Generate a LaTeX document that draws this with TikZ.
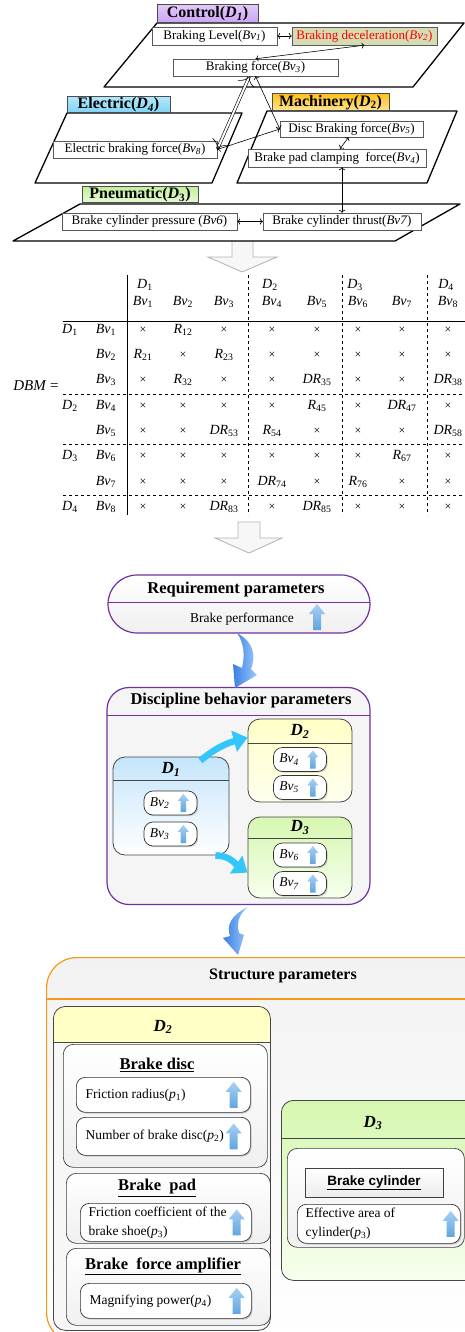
\documentclass[tikz,border=0pt]{standalone}
\usepackage{fontspec}
\setmainfont{Liberation Serif}
\setsansfont{Liberation Sans}
\usetikzlibrary{arrows.meta,shadows}

\definecolor{ctrl}{HTML}{CDA4F5}
\definecolor{elec}{HTML}{7FD4F6}
\definecolor{mach}{HTML}{FFC21A}
\definecolor{pneu}{HTML}{C3F09A}
\definecolor{decel}{HTML}{D5DCB3}
\definecolor{lila}{HTML}{7030A0}
\definecolor{amber}{HTML}{F7981D}
\definecolor{cyanarr}{HTML}{33C6FA}
\definecolor{arrtop}{HTML}{A8D0F4}
\definecolor{arrbot}{HTML}{5FA5DD}
\definecolor{bendlt}{HTML}{9CC8FF}
\definecolor{benddk}{HTML}{3A7FE0}
\definecolor{dtop}{HTML}{C5E5FB}
\definecolor{dyel}{HTML}{FFFFC6}
\definecolor{dyelb}{HTML}{FFFFF0}
\definecolor{dgrn}{HTML}{D6F7B0}
\definecolor{dgrnb}{HTML}{F6FFEE}

\newcommand{\fsz}[1]{\fontsize{#1}{#1}\selectfont}
\newcommand{\bv}[1]{\textit{Bv}\textsubscript{#1}}
\newcommand{\bvi}[1]{\textit{Bv}\textsubscript{\textit{#1}}}
\newcommand{\dd}[1]{\textit{D}\textsubscript{#1}}
\newcommand{\rr}[1]{\textit{R}\textsubscript{#1}}
\newcommand{\dr}[1]{\textit{DR}\textsubscript{#1}}
\newcommand{\pp}[1]{\textit{p}\textsubscript{#1}}
\newcommand{\cx}{{\fsz{12}×}}

\begin{document}
\begin{tikzpicture}[x=1pt,y=-1pt,
  box/.style={draw=gray!70!black,fill=white,inner sep=0pt,font=\fsz{13}},
  tag/.style={draw=gray!60!black,line width=1pt,inner sep=0pt,font=\bfseries\fsz{16}},
  plane/.style={draw=black,line width=1.3pt,line join=round},
  link/.style={<->,line width=0.6pt},
  cell/.style={inner sep=0pt,font=\fsz{14}},
  hollow/.style={draw=gray!60,fill=gray!6,line width=0.8pt},
  dbox/.style={draw=gray!55!black,line width=0.8pt,rounded corners=12pt,inner sep=0pt},
  pill/.style={draw=gray!40!black,line width=0.7pt,fill=white,rounded corners=9pt,inner sep=0pt,
    drop shadow={shadow xshift=1.2pt,shadow yshift=-1.2pt,fill=gray,opacity=0.35}},
  ibox/.style={draw=gray!50!black,line width=0.7pt,rounded corners=10pt,top color=white,
    bottom color=gray!12,inner sep=0pt},
  flow/.style={draw=cyanarr,line width=6.5pt,-{Triangle[length=14pt,width=21pt]}},
  bendarrow/.style={left color=benddk,right color=bendlt},
  uparr/.pic={\shade[top color=arrtop,bottom color=arrbot] (-4,13) -- (-4,-3) -- (-8,-3)
    -- (0,-13) -- (8,-3) -- (4,-3) -- (4,13) -- cycle;}]
\useasboundingbox (0,0) rectangle (465,1332);
\clip (0,0) rectangle (465,1332);

% three discipline planes
\path[hollow] (232,241) -- (232,257) -- (208,257) -- (242,272) -- (277,257) -- (253,257) -- (253,241);
\draw[plane] (157,23) -- (464,23) -- (413,87) -- (104,87) -- cycle;
\draw[plane] (67,113) -- (242,113) -- (212,183) -- (35,183) -- cycle;
\draw[plane] (267,111) -- (457,111) -- (427,183) -- (237,183) -- cycle;
\draw[plane] (80,204) -- (460,204) -- (395,241) -- (13,241) -- cycle;

\node[tag,top color=ctrl!60,bottom color=ctrl,minimum width=101pt,minimum height=18pt] (ctl) at (207.5,14) {Control(\textit{D}\textsubscript{\textit{1}})};
\node[tag,top color=elec!60,bottom color=elec,minimum width=103pt,minimum height=16pt] (ele) at (118.5,105) {Electric(\textit{D}\textsubscript{\textit{4}})};
\node[tag,top color=mach,bottom color=mach!45,minimum width=117pt,minimum height=17pt] (mac) at (330.5,102.5) {Machinery(\dd{2})};
\node[tag,top color=pneu,bottom color=pneu!40,minimum width=116pt,minimum height=16pt] (pne) at (140,195) {Pneumatic(\dd{3})};

\node[box,minimum width=125pt,minimum height=18pt] (bv1) at (214.5,36) {Braking Level(\bvi{1})};
\node[box,fill=decel,text=red,minimum width=145pt,minimum height=18pt] (bv2) at (364.5,36) {Braking deceleration(\bvi{2})};
\node[box,minimum width=165pt,minimum height=17pt] (bv3) at (255.5,67.5) {Braking force(\bvi{3})};
\node[box,minimum width=164pt,minimum height=17pt] (bv8) at (135,149.5) {Electric braking force(\bvi{8})};
\node[box,minimum width=143pt,minimum height=16pt] (bv5) at (351.5,129) {Disc Braking force(\bvi{5})};
\node[box,minimum width=178pt,minimum height=18pt] (bv4) at (337,158) {Brake pad clamping\ \ force(\bvi{4})};
\node[box,minimum width=175pt,minimum height=17pt] (bv6) at (149.5,221.5) {Brake cylinder pressure (\textit{Bv6})};
\node[box,minimum width=158pt,minimum height=17pt] (bv7) at (342,221.5) {Brake cylinder thrust(\textit{Bv7})};

\draw[link] (bv1) -- (bv2);
\draw[link] (bv3.north) -- (bv2.south);
\draw[link] (bv3.south) -- (bv5.west);
\draw[link,double,double distance=2pt] ([xshift=-6pt]bv3.south) -- (bv8.east);
\draw[link] (bv8.east) -- (bv5.west);
\draw[link] ([xshift=-3pt]bv5.south) -- ([xshift=3pt]bv4.north);
\draw[link] (bv7.north |- bv4.south) -- (bv7.north);
\draw[link] (bv6) -- (bv7);

% DBM
\node[cell,font=\fsz{15}] (dbm) at (36,386) {\textit{DBM} =};
\foreach \d/\xx in {1/145,2/270,3/355,4/446}
  \node[cell] (hd\d) at (\xx,285) {\dd{\d}};
\foreach \i/\xx in {1/143,2/183,3/224,4/272,5/317,6/358,7/402,8/448}
  \node[cell] (hb\i) at (\xx,302) {\bv{\i}};
\foreach \d/\yy in {1/330,2/406,3/456,4/507}
  \node[cell] (rd\d) at (70,\yy) {\dd{\d}};
\foreach \r/\yy/\row in {
  1/330/{\cx,\rr{12},\cx,\cx,\cx,\cx,\cx,\cx},
  2/355/{\rr{21},\cx,\rr{23},\cx,\cx,\cx,\cx,\cx},
  3/380/{\cx,\rr{32},\cx,\cx,\dr{35},\cx,\cx,\dr{38}},
  4/406/{\cx,\cx,\cx,\cx,\rr{45},\cx,\dr{47},\cx},
  5/431/{\cx,\cx,\dr{53},\rr{54},\cx,\cx,\cx,\dr{58}},
  6/456/{\cx,\cx,\cx,\cx,\cx,\cx,\rr{67},\cx},
  7/482/{\cx,\cx,\cx,\dr{74},\cx,\rr{76},\cx,\cx},
  8/507/{\cx,\cx,\dr{83},\cx,\dr{85},\cx,\cx,\cx}}{
  \node[cell] (rb\r) at (106,\yy) {\bv{\r}};
  \foreach \c [count=\i] in \row {
    \pgfmathsetmacro\xx{{143,183,224,272,317,358,402,448}[\i-1]}
    \node[cell] (m\r\i) at (\xx,\yy) {\c};
  }
}
\draw[line width=0.8pt] (127,275) -- (127,515);
\draw[line width=0.8pt] (63,321) -- (465,321);
\foreach \xx in {248,342,427}
  \draw[dashed,line width=0.7pt] (\xx,275) -- (\xx,515);
\foreach \yy in {394,444,495}
  \draw[dashed,line width=0.7pt] (63,\yy) -- (465,\yy);

\draw[hollow] (238,522) -- (238,538) -- (215,538) -- (249,553) -- (282,538) -- (260,538) -- (260,522) -- cycle;

% requirement parameters
\node[draw=lila,line width=1.2pt,rounded corners=29pt,top color=white,bottom color=gray!12,
  minimum width=262pt,minimum height=58pt,inner sep=0pt] (req) at (239,604) {};
\draw[lila,line width=1pt] (108,602) -- (370,602);
\node[font=\bfseries\fsz{16.5}] (reqt) at (236,590) {Requirement parameters};
\node[font=\fsz{13.5}] (reqp) at (242,619) {Brake performance};
\pic at (317,617) {uparr};

% discipline behavior parameters
\node[draw=lila,line width=1.2pt,fill=gray!8,rounded corners=22pt,minimum width=263pt,
  minimum height=217pt,inner sep=0pt] (disc) at (238.5,796) {};
\draw[lila,line width=1pt] (107,715) -- (370,715);
\node[font=\bfseries\fsz{16.5}] (disct) at (241,701) {Discipline behavior parameters};

\node[dbox,top color=dtop,bottom color=white,minimum width=116pt,minimum height=98pt] (d1) at (171,806) {};
\node[dbox,top color=dyel,bottom color=dyelb,minimum width=104pt,minimum height=83pt] (d2) at (300,760.5) {};
\node[dbox,top color=dgrn,bottom color=dgrnb,minimum width=104pt,minimum height=81pt] (d3) at (300,857.5) {};
\draw[gray!55!black] ([yshift=-24pt]d1.north west) -- ([yshift=-24pt]d1.north east);
\draw[gray!55!black] ([yshift=-25pt]d2.north west) -- ([yshift=-25pt]d2.north east);
\draw[gray!55!black] ([yshift=-22pt]d3.north west) -- ([yshift=-22pt]d3.north east);
\node[font=\bfseries\itshape\fsz{17}] (d1t) at ([yshift=-13pt]d1.north) {D\textsubscript{1}};
\node[font=\bfseries\itshape\fsz{17}] (d2t) at ([yshift=-13pt]d2.north) {D\textsubscript{2}};
\node[font=\bfseries\itshape\fsz{17}] (d3t) at ([yshift=-11pt]d3.north) {D\textsubscript{3}};
\foreach \n/\xx/\yy in {2/170.5/803,3/170.5/834,4/300/759.5,5/300/787.5,6/300/855,7/300/883.5}{
  \node[pill,minimum width=53pt,minimum height=24pt] (q\n) at (\xx,\yy) {};
  \node[font=\fsz{13.5}] (q\n t) at ([xshift=16pt]q\n.west) {\bvi{\n}};
  \pic[scale=0.7] at ([xshift=-14pt]q\n.east) {uparr};
}
\draw[flow] ([shift={(-29pt,-4pt)}]d1.north east) to[out=40,in=195] ([yshift=-19pt]d2.north west);
\draw[flow] ([xshift=-14pt]d1.south east) to[out=0,in=145] ([yshift=-56pt]d3.north west);

\shade[bendarrow] (237,633) .. controls (254,642) and (256,656) .. (251,669) -- (257,675) -- (235,688)
  -- (233,664) -- (242,668) .. controls (245,655) and (244,643) .. (237,633) -- cycle;

% structure parameters
\node[draw=amber,line width=1.2pt,rounded corners=30pt,top color=gray!10,bottom color=white,
  minimum width=480pt,minimum height=385pt,inner sep=0pt,anchor=north west] (strc) at (46,957) {};
\draw[amber,line width=1.2pt] (46,999) -- (465,999);
\node[font=\bfseries\fsz{16}] (strt) at (283,976) {Structure parameters};

\fill[gray!6,rounded corners=12pt] (53,1006) rectangle (270,1330);
\begin{scope}
  \clip (53,1006) rectangle (270,1042);
  \fill[dyel,rounded corners=12pt] (53,1006) rectangle (270,1080);
\end{scope}
\node[dbox,minimum width=217pt,minimum height=324pt,anchor=north west] (sd2) at (53,1006) {};
\draw[gray!55!black] ([yshift=-36pt]sd2.north west) -- ([yshift=-36pt]sd2.north east);
\node[font=\bfseries\itshape\fsz{17}] (sd2t) at (163,1027) {D\textsubscript{2}};

\node[ibox,minimum width=204pt,minimum height=123pt,anchor=north west] (disk) at (63,1044) {};
\node[font=\bfseries\fsz{16.5}] (diskt) at (157,1065) {\underline{Brake disc}};
\node[pill,minimum width=174pt,minimum height=35pt,anchor=north west] (rad) at (76,1077) {};
\node[anchor=west,font=\fsz{13.5}] (radt) at ([xshift=6pt]rad.west) {Friction radius(\pp{1})};
\pic at ([xshift=-17pt]rad.east) {uparr};
\node[pill,minimum width=174pt,minimum height=38pt,anchor=north west] (num) at (76,1117) {};
\node[anchor=west,font=\fsz{13.5}] (numt) at ([xshift=6pt]num.west) {Number of brake disc(\pp{2})};
\pic at ([xshift=-17pt]num.east) {uparr};

\node[ibox,minimum width=204pt,minimum height=70pt,anchor=north west] (pad) at (66,1173) {};
\node[font=\bfseries\fsz{16.5}] (padt) at (157,1188) {\underline{Brake\ \ pad}};
\node[pill,minimum width=171pt,minimum height=38pt,anchor=north west] (fric) at (80,1203) {};
\node[anchor=west,align=left,font=\fontsize{13.5}{19}\selectfont] (frict) at ([xshift=5pt]fric.west) {Friction coefficient of the\\brake shoe(\pp{3})};
\pic at ([xshift=-15pt]fric.east) {uparr};

\node[ibox,minimum width=204pt,minimum height=77pt,anchor=north west] (amp) at (66,1248) {};
\node[font=\bfseries\fsz{16.5}] (ampt) at (163,1266) {\underline{Brake\ \ force amplifier}};
\node[pill,minimum width=171pt,minimum height=35pt,anchor=north west] (mag) at (80,1283) {};
\node[anchor=west,font=\fsz{13.5}] (magt) at ([xshift=6pt]mag.west) {Magnifying power(\pp{4})};
\pic at ([xshift=-15pt]mag.east) {uparr};

\node[dbox,top color=dgrn,bottom color=dgrnb,minimum width=220pt,minimum height=180pt,anchor=north west] (sd3) at (281,1100) {};
\draw[gray!55!black] ([yshift=-38pt]sd3.north west) -- ([yshift=-38pt]sd3.north east);
\node[font=\bfseries\itshape\fsz{17}] (sd3t) at (373,1123) {D\textsubscript{3}};
\node[ibox,minimum width=177pt,minimum height=99pt,anchor=north west] (cylb) at (287,1148) {};
\node[draw=gray!50!black,top color=white,bottom color=gray!15,minimum width=138pt,minimum height=29pt,
  inner sep=0pt,font=\sffamily\bfseries\fsz{13.5}] (cyl) at (374,1182.5) {\underline{Brake cylinder}};
\node[pill,minimum width=163pt,minimum height=39pt,anchor=north west] (area) at (297,1204) {};
\node[anchor=west,align=left,font=\fontsize{13.5}{19}\selectfont] (areat) at ([xshift=5pt]area.west) {Effective area of\\cylinder(\pp{3})};
\pic at ([xshift=-10pt]area.east) {uparr};

\shade[bendarrow] (248,907) .. controls (231,915) and (226,926) .. (230,936) -- (223,938) -- (238,955)
  -- (244,935) -- (239,933) .. controls (236,922) and (240,913) .. (248,907) -- cycle;
\end{tikzpicture}
\end{document}
